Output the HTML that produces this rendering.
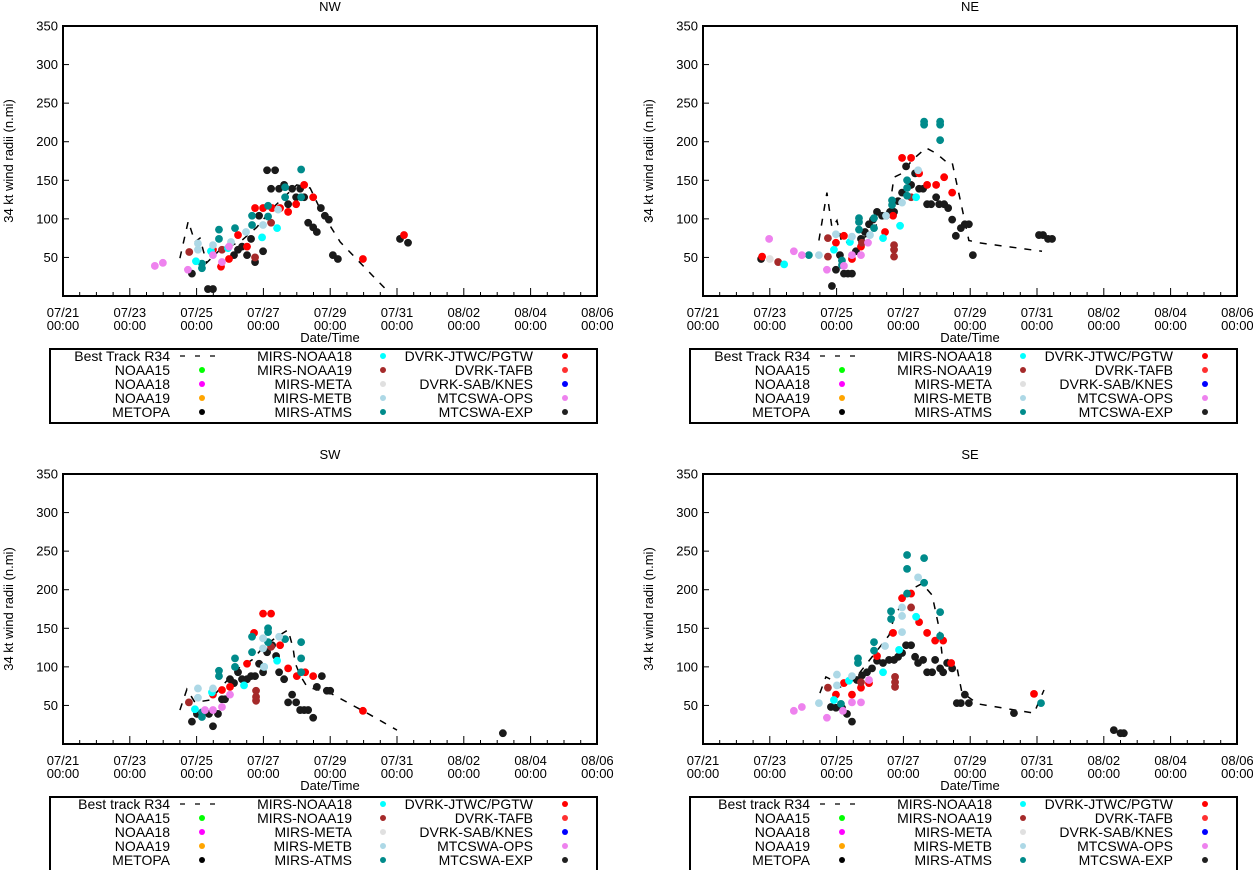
<!DOCTYPE html>
<html><head><meta charset="utf-8"><style>
html,body{margin:0;padding:0;background:#fff;}
svg{display:block;font-family:"Liberation Sans",sans-serif;}
</style></head><body>
<svg id="chart" width="1253" height="870" viewBox="0 0 1253 870" xmlns="http://www.w3.org/2000/svg"></svg>
<script>
// ---- tick labels ----
const xTickLabels = ["07/21","07/23","07/25","07/27","07/29","07/31","08/02","08/04","08/06"];
const yTickValues = [50,100,150,200,250,300,350];

// ---- NW data [day offset from 07/21 00:00, radius n.mi] ----
const nwBest = [[3.5,49],[3.75,97],[3.95,70],[4.1,75],[4.3,43],[4.7,60],[5.3,70],[5.8,89],[6.3,115],[7.0,144],[7.4,140],[7.75,108],[8.3,70],[9.3,25],[9.75,5]];
const nwBlack = [[3.86,29],[4.34,9],[4.49,9],[5.12,53],[5.24,60],[5.36,64],[5.51,53],[5.63,74],[5.75,44],[5.99,58],[5.87,104],[6.11,163],[6.35,163],[6.23,139],[6.47,139],[6.62,144],[6.74,119],[6.86,139],[6.98,128],[7.10,139],[7.22,128],[7.34,95],[7.49,89],[7.60,83],[7.72,114],[7.84,104],[7.96,99],[8.08,53],[8.23,48],[10.09,74],[10.33,69]];
const nwRed = [[4.49,60],[4.73,38],[4.97,48],[5.24,79],[5.51,64],[5.75,114],[5.99,114],[6.26,114],[6.50,114],[6.74,109],[6.98,119],[7.22,144],[7.49,128],[8.98,48],[10.21,79]];
const nwBrown = [[3.78,57],[4.76,60],[5.75,50],[6.23,95]];
const nwTeal = [[4.16,36],[4.16,42],[4.67,86],[4.67,74],[5.15,88],[5.66,104],[5.66,92],[6.14,103],[6.14,117],[6.65,128],[7.13,164],[7.13,128],[6.65,141]];
const nwCyan = [[3.98,45],[4.43,58],[4.94,62],[5.96,76],[6.41,88]];
const nwLightBlue = [[4.04,60],[4.04,68],[4.49,66],[5.03,70],[5.48,83],[5.99,92],[6.44,112]];
const nwViolet = [[2.75,39],[2.99,43],[3.74,34],[4.49,53],[4.76,44],[4.97,64]];
const nwGray = [];

// ---- NE data ----
const neBest = [[3.47,72],[3.71,134],[3.86,89],[4.01,98],[4.16,68],[4.88,77],[5.57,111],[5.72,154],[5.96,159],[6.26,176],[6.68,192],[6.98,185],[7.31,173],[7.46,173],[7.75,115],[7.96,72],[8.26,69],[10.15,58]];
const neBlack = [[1.74,48],[3.86,13],[3.98,34],[4.10,53],[4.22,29],[4.34,29],[4.46,29],[4.58,58],[4.73,74],[4.85,83],[4.97,93],[5.09,99],[5.21,109],[5.36,104],[5.48,104],[5.60,109],[5.72,109],[5.84,123],[5.96,134],[6.08,168],[6.35,159],[6.23,144],[6.47,139],[6.59,139],[6.71,119],[6.83,119],[6.98,128],[7.07,119],[7.22,119],[7.34,114],[7.46,99],[7.57,78],[7.72,88],[7.84,93],[7.96,93],[8.08,53],[10.06,79],[10.18,79],[10.33,74],[10.45,74]];
const neRed = [[1.77,51],[3.98,69],[4.22,78],[4.46,48],[4.73,64],[5.45,83],[5.69,104],[5.96,179],[6.23,179],[6.47,159],[6.71,144],[6.98,144],[7.22,154],[7.46,134]];
const neBrown = [[2.25,44],[3.74,75],[3.74,51],[4.76,69],[5.72,66],[5.72,60],[5.72,51],[6.23,128]];
const neTeal = [[3.17,53],[4.16,40],[4.16,46],[4.67,101],[4.67,96],[4.67,86],[5.12,101],[5.12,88],[5.66,124],[5.66,118],[6.11,150],[6.11,140],[6.11,130],[6.62,222],[6.62,226],[7.10,222],[7.10,226],[7.10,202]];
const neCyan = [[2.43,41],[3.92,60],[4.40,70],[5.39,75],[5.90,91],[6.38,128]];
const neLightBlue = [[3.47,53],[3.98,80],[4.46,77],[5.00,79],[5.48,104],[5.96,121],[6.44,163]];
const neViolet = [[1.98,74],[2.72,58],[2.96,53],[3.71,34],[4.22,39],[4.46,53],[4.73,53],[4.94,69]];
const neGray = [[2.0,48]];

// ---- SW data ----
const swBest = [[3.5,44],[3.71,71],[3.95,54],[4.40,57],[5.21,97],[5.66,109],[6.05,128],[6.41,139],[6.74,148],[6.89,124],[6.95,105],[7.10,89],[7.31,74],[8.0,66],[9.19,38],[10.0,18]];
const swBlack = [[3.86,29],[4.01,39],[4.37,39],[4.49,23],[4.64,39],[4.76,58],[4.85,58],[5.0,84],[5.12,79],[5.24,93],[5.36,84],[5.51,84],[5.63,88],[5.75,88],[5.87,104],[5.99,93],[6.11,119],[6.26,128],[6.38,114],[6.47,93],[6.62,84],[6.74,54],[6.86,64],[6.98,54],[7.10,44],[7.22,44],[7.34,44],[7.49,34],[7.60,74],[7.75,88],[7.90,69],[8.0,69],[13.17,14]];
const swRed = [[5.99,169],[6.23,169],[5.72,144],[5.51,104],[5.0,74],[4.76,70],[4.49,64],[6.50,128],[6.74,98],[7.0,88],[7.25,93],[7.49,88],[8.98,43]];
const swBrown = [[3.77,54],[5.78,56],[5.78,61],[5.78,69],[6.23,126]];
const swTeal = [[4.16,35],[4.16,41],[4.67,88],[4.67,95],[5.15,111],[5.15,100],[5.66,139],[5.66,119],[6.14,145],[6.14,150],[6.14,132],[6.65,136],[7.13,132],[7.13,111],[7.13,93]];
const swCyan = [[3.95,45],[4.46,67],[5.42,76],[6.02,100],[6.41,108]];
const swLightBlue = [[4.04,72],[4.04,60],[4.49,72],[5.99,137],[5.99,124],[6.47,139],[6.02,100]];
const swViolet = [[4.25,44],[4.49,44],[4.76,48],[5.0,64]];
const swGray = [];

// ---- SE data ----
const seBest = [[3.50,66],[3.68,87],[3.86,83],[4.07,73],[4.52,83],[5.57,141],[5.72,164],[6.17,199],[6.56,208],[6.86,193],[7.07,150],[7.16,115],[7.60,100],[7.75,67],[8.23,52],[9.91,40],[10.21,70]];
const seBlack = [[4.46,29],[4.31,39],[4.16,47],[3.98,47],[3.83,48],[4.61,83],[4.76,89],[4.91,93],[5.06,98],[5.21,108],[5.39,105],[5.57,109],[5.72,109],[5.84,113],[5.96,118],[6.08,128],[6.23,128],[6.35,113],[6.44,105],[6.59,109],[6.71,93],[6.86,93],[6.95,109],[7.10,98],[7.19,93],[7.31,105],[7.46,98],[7.60,53],[7.72,53],[7.84,64],[7.96,53],[9.31,40],[12.3,18],[12.5,14],[12.6,14]];
const seRed = [[5.96,189],[6.23,195],[6.47,158],[6.71,144],[6.95,134],[7.19,134],[5.69,144],[5.21,114],[4.97,79],[4.73,73],[4.46,64],[4.22,79],[3.98,64],[7.43,105],[9.91,65]];
const seBrown = [[6.23,177],[5.75,74],[5.75,80],[5.75,87],[4.73,80],[3.74,73]];
const seTeal = [[6.11,245],[6.62,241],[6.11,227],[6.62,209],[6.11,195],[7.10,171],[5.63,172],[5.63,162],[7.10,140],[5.12,132],[5.12,121],[4.64,105],[4.64,111],[4.13,52],[10.12,53]];
const seCyan = [[6.38,165],[5.87,122],[5.39,93],[4.37,82],[3.92,57]];
const seLightBlue = [[6.44,216],[5.96,177],[5.96,166],[5.96,145],[5.45,127],[4.01,90],[4.01,76],[3.47,53],[4.46,88]];
const seViolet = [[2.72,43],[2.96,48],[3.71,34],[4.19,43],[4.46,54],[4.73,54],[4.97,83]];
const seGray = [];

// ---- legend ----
const legendCol2 = ["MIRS-NOAA18","MIRS-NOAA19","MIRS-META","MIRS-METB","MIRS-ATMS"];
const legendCol2Colors = ["#00ffff","#a52a2a","#e0e0e0","#add8e6","#008b8b"];
const legendCol1 = ["NOAA15","NOAA18","NOAA19","METOPA"];
const legendCol1Colors = ["#00ff00","#ff00ff","#ffa500","#000000"];
const legendCol3 = ["DVRK-JTWC/PGTW","DVRK-TAFB","DVRK-SAB/KNES","MTCSWA-OPS","MTCSWA-EXP"];
const legendCol3Colors = ["#ff0000","#ff3030","#0000ff","#ee82ee","#202020"];

const panels = [
  {key:"nw", title:"NW", x0:63, yb:296, best:"Best Track R34", d:[nwBest,nwBlack,nwRed,nwBrown,nwTeal,nwCyan,nwLightBlue,nwViolet,nwGray]},
  {key:"ne", title:"NE", x0:703, yb:296, best:"Best Track R34", d:[neBest,neBlack,neRed,neBrown,neTeal,neCyan,neLightBlue,neViolet,neGray]},
  {key:"sw", title:"SW", x0:63, yb:744, best:"Best track R34", d:[swBest,swBlack,swRed,swBrown,swTeal,swCyan,swLightBlue,swViolet,swGray]},
  {key:"se", title:"SE", x0:703, yb:744, best:"Best track R34", d:[seBest,seBlack,seRed,seBrown,seTeal,seCyan,seLightBlue,seViolet,seGray]}
];
const seriesNames = ["black","red","brown","teal","cyan","lightblue","violet","gray"];
const seriesColors = ["#1a1a1a","#ff0000","#a52a2a","#008b8b","#00ffff","#add8e6","#ee82ee","#e0e0e0"];

const PXDAY = 33.4, PXVAL = 0.7714, W = 534, H = 270;
const NS = "http://www.w3.org/2000/svg";
const svg = document.getElementById("chart");
function mk(tag, attrs, parent){const e=document.createElementNS(NS,tag);for(const k in attrs)e.setAttribute(k,attrs[k]);(parent||svg).appendChild(e);return e;}
function txt(s, attrs, parent){const e=mk("text",attrs,parent);e.textContent=s;return e;}

panels.forEach(p=>{
  const xS = d => p.x0 + d*PXDAY;
  const yS = v => p.yb - v*PXVAL;
  const top = p.yb - H;
  const g = mk("g",{});
  
  
  const t = txt(p.title,{x:p.x0+W/2,y:top-15,"text-anchor":"middle","font-size":"13"},g);
  
  
  const yt = txt("34 kt wind radii (n.mi)",{x:0,y:0,"text-anchor":"middle","font-size":"13",transform:`translate(${p.x0-50},${top+H/2}) rotate(-90)`},g);
  
  
  yTickValues.forEach(v=>{
    const l = txt(String(v),{x:p.x0-5,y:yS(v)+4.5,"text-anchor":"end","font-size":"13"},g);
    
    
    mk("line",{x1:p.x0,x2:p.x0+6,y1:yS(v),y2:yS(v),stroke:"#000","stroke-width":1},g);
  });
  for(let i=0;i<=32;i++){
    const x = xS(i*0.5), major = i%4===0;
    mk("line",{x1:x,x2:x,y1:p.yb,y2:p.yb-(major?8:4),stroke:"#000","stroke-width":1},g);
  }
  xTickLabels.forEach((s,i)=>{
    const x = xS(i*2);
    const a = txt(s,{x:x,y:p.yb+21,"text-anchor":"middle","font-size":"13"},g);
    
    
    txt("00:00",{x:x,y:p.yb+34,"text-anchor":"middle","font-size":"13"},g);
  });
  const xt = txt("Date/Time",{x:p.x0+W/2,y:p.yb+46,"text-anchor":"middle","font-size":"13"},g);
  
  
  const bt = mk("polyline",{points:p.d[0].map(q=>xS(q[0])+","+yS(q[1])).join(" "),fill:"none",stroke:"#000","stroke-width":1.5,"stroke-dasharray":"7,8"},g);
  
  
  for(let s=1;s<p.d.length;s++){
    p.d[s].forEach(q=>{
      const c = mk("circle",{cx:xS(q[0]),cy:yS(q[1]),r:3.9,fill:seriesColors[s-1]},g);
      
      
    });
  }
  const fr = mk("rect",{x:p.x0,y:top,width:W,height:H,fill:"none",stroke:"#000","stroke-width":2},g);
  
  
  const lx = p.x0-13, ly = p.yb+53;
  const lg = mk("g",{});
  
  
  mk("rect",{x:lx,y:ly,width:547,height:74,fill:"#fff",stroke:"#000","stroke-width":2},lg);
  const rowY = r => ly+7+r*14;
  const e0 = txt(p.best,{x:lx+120,y:rowY(0)+5,"text-anchor":"end","font-size":"14"},lg);
  
  
  mk("line",{x1:lx+130,x2:lx+166,y1:rowY(0),y2:rowY(0),stroke:"#000","stroke-width":1.3,"stroke-dasharray":"5,10"},lg);
  legendCol1.forEach((s,i)=>{
    const e = txt(s,{x:lx+120,y:rowY(i+1)+5,"text-anchor":"end","font-size":"14"},lg);
    
    
    mk("circle",{cx:lx+152,cy:rowY(i+1),r:3,fill:legendCol1Colors[i]},lg);
  });
  legendCol2.forEach((s,i)=>{
    const e = txt(s,{x:lx+302,y:rowY(i)+5,"text-anchor":"end","font-size":"14"},lg);
    
    
    mk("circle",{cx:lx+333,cy:rowY(i),r:3,fill:legendCol2Colors[i]},lg);
  });
  legendCol3.forEach((s,i)=>{
    const e = txt(s,{x:lx+483,y:rowY(i)+5,"text-anchor":"end","font-size":"14"},lg);
    
    
    mk("circle",{cx:lx+515,cy:rowY(i),r:3,fill:legendCol3Colors[i]},lg);
  });
});
</script>
</body></html>
